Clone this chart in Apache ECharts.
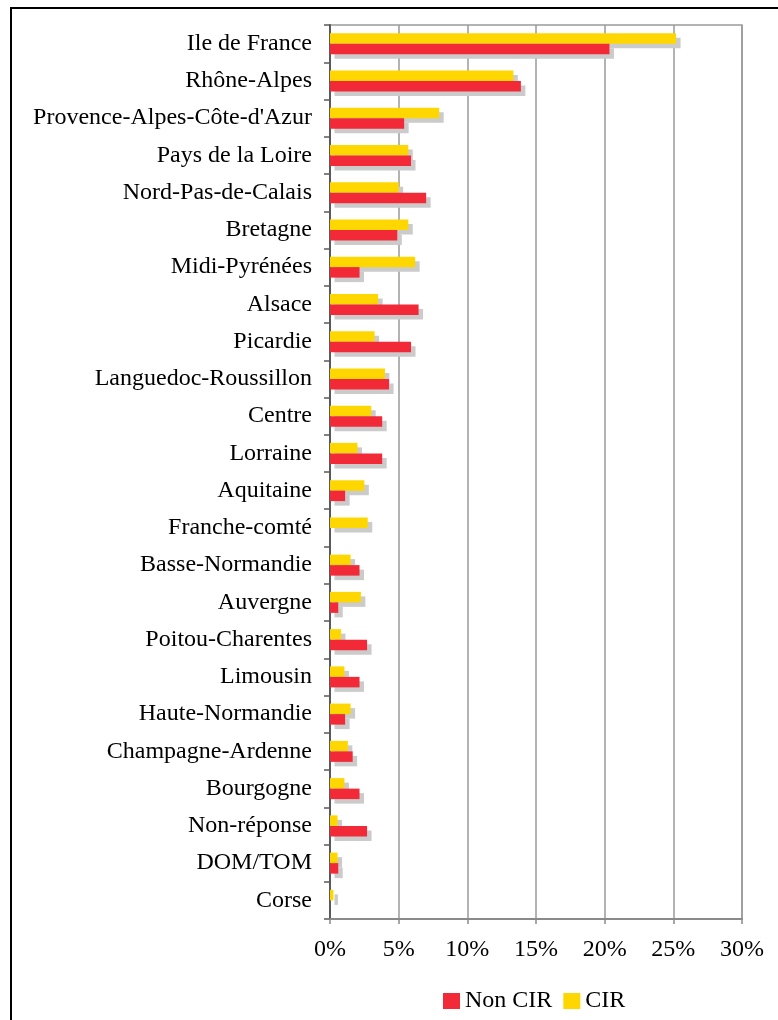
<!DOCTYPE html>
<html>
<head>
<meta charset="utf-8">
<script src="https://cdn.jsdelivr.net/npm/echarts@6/dist/echarts.min.js"></script>
<style>
  html, body { margin: 0; padding: 0; background: #fff; }
  #chart { width: 778px; height: 1020px; }
</style>
</head>
<body>
<div id="chart"></div>
<script>
// Regions, listed from top to bottom
const regions = [
  "Ile de France", "Rhône-Alpes", "Provence-Alpes-Côte-d'Azur", "Pays de la Loire",
  "Nord-Pas-de-Calais", "Bretagne", "Midi-Pyrénées", "Alsace", "Picardie",
  "Languedoc-Roussillon", "Centre", "Lorraine", "Aquitaine", "Franche-comté",
  "Basse-Normandie", "Auvergne", "Poitou-Charentes", "Limousin", "Haute-Normandie",
  "Champagne-Ardenne", "Bourgogne", "Non-réponse", "DOM/TOM", "Corse"
];

// Share of firms (%) per region
const cirValues = [
  25.2, 13.35, 7.95, 5.7, 5.0, 5.7, 6.2, 3.5, 3.25,
  4.0, 3.0, 2.0, 2.5, 2.75,
  1.5, 2.25, 0.8, 1.05, 1.5,
  1.3, 1.05, 0.55, 0.55, 0.25
];
const nonCirValues = [
  20.35, 13.9, 5.4, 5.9, 7.0, 4.9, 2.15, 6.45, 5.9,
  4.3, 3.8, 3.8, 1.1, 0,
  2.15, 0.6, 2.7, 2.15, 1.1,
  1.65, 2.15, 2.7, 0.6, 0
];

// Value axis ticks (%)
const axisMin = 0;
const axisMax = 30;
const axisStep = 5;

const serif = '"Liberation Serif", "DejaVu Serif", serif';
const shadow = { shadowColor: '#cbcbcb', shadowBlur: 0, shadowOffsetX: 4.5, shadowOffsetY: 4.5 };

const chart = echarts.init(document.getElementById('chart'), null, { renderer: 'canvas' });
chart.setOption({
  animation: false,
  backgroundColor: '#fff',
  graphic: [{
    type: 'rect',
    shape: { x: 11, y: 8, width: 900, height: 1200 },
    style: { fill: null, stroke: '#000', lineWidth: 2 },
    silent: true,
    z: 100
  }],
  grid: {
    left: 330, right: 36, top: 25, bottom: 101,
    show: true, borderColor: '#9a9a9a', borderWidth: 1.5,
    containLabel: false
  },
  legend: {
    data: ['Non CIR', 'CIR'],
    left: 438, top: 984,
    itemWidth: 17, itemHeight: 16, itemGap: 11,
    icon: 'rect',
    textStyle: { fontFamily: serif, fontSize: 24, color: '#000', padding: [0, 0, 0, 0] }
  },
  xAxis: {
    type: 'value',
    min: axisMin, max: axisMax, interval: axisStep,
    axisLine: { show: true, lineStyle: { color: '#8a8a8a', width: 2 } },
    axisTick: { show: true, length: 5, lineStyle: { color: '#8a8a8a', width: 1.5 } },
    splitLine: { show: true, lineStyle: { color: '#9a9a9a', width: 1.5 } },
    axisLabel: {
      formatter: v => v + '%',
      fontFamily: serif, fontSize: 24, color: '#000', margin: 19
    }
  },
  yAxis: {
    type: 'category',
    data: regions,
    inverse: true,
    axisLine: { show: true, lineStyle: { color: '#5a5a5a', width: 2 } },
    axisTick: { show: true, length: 6, lineStyle: { color: '#5a5a5a', width: 1.5 } },
    axisLabel: { fontFamily: serif, fontSize: 24, color: '#000', margin: 18, padding: [3, 0, 0, 0] }
  },
  series: [
    {
      name: 'CIR', type: 'bar', data: cirValues,
      barWidth: 10.5, barGap: '0%',
      itemStyle: Object.assign({ color: '#FFD700' }, shadow)
    },
    {
      name: 'Non CIR', type: 'bar', data: nonCirValues,
      barWidth: 10.5, barGap: '0%',
      itemStyle: Object.assign({ color: '#F22A38' }, shadow)
    }
  ]
});
</script>
</body>
</html>
